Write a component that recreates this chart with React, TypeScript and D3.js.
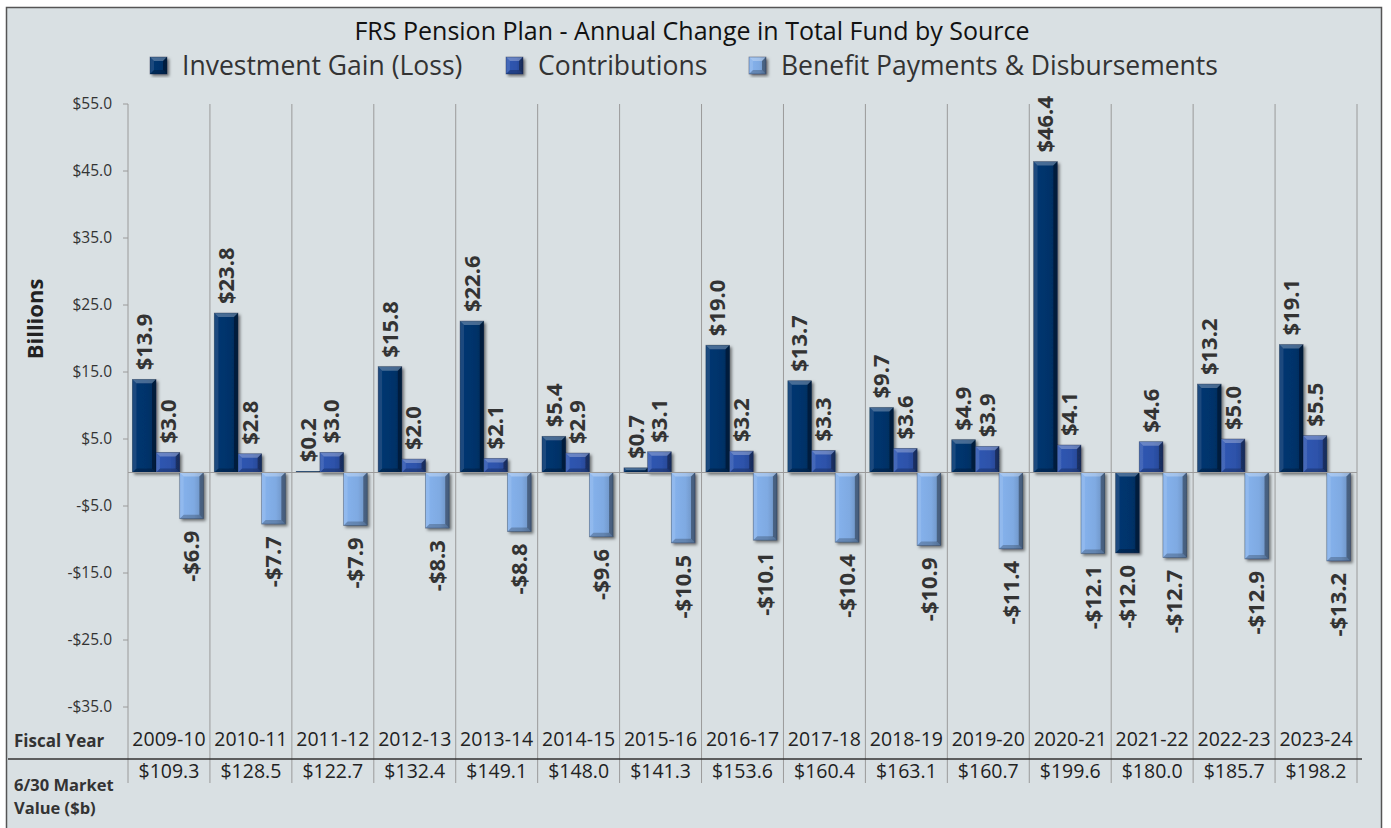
import React from "react";
import * as d3 from "d3";

const years = ["2009-10","2010-11","2011-12","2012-13","2013-14","2014-15","2015-16","2016-17","2017-18","2018-19","2019-20","2020-21","2021-22","2022-23","2023-24"];
const investment = [13.9, 23.8, 0.2, 15.8, 22.6, 5.4, 0.7, 19.0, 13.7, 9.7, 4.9, 46.4, -12.0, 13.2, 19.1];
const contributions = [3.0, 2.8, 3.0, 2.0, 2.1, 2.9, 3.1, 3.2, 3.3, 3.6, 3.9, 4.1, 4.6, 5.0, 5.5];
const benefits = [-6.9, -7.7, -7.9, -8.3, -8.8, -9.6, -10.5, -10.1, -10.4, -10.9, -11.4, -12.1, -12.7, -12.9, -13.2];
const marketValues = [109.3, 128.5, 122.7, 132.4, 149.1, 148.0, 141.3, 153.6, 160.4, 163.1, 160.7, 199.6, 180.0, 185.7, 198.2];
const yTicks = [55, 45, 35, 25, 15, 5, -5, -15, -25, -35];
const seriesNames = ["Investment Gain (Loss)", "Contributions", "Benefit Payments & Disbursements"];
const seriesColors = ["#01336b", "#2d52aa", "#7faae2"];

const W = 1391, H = 828;
const FONT = "'Open Sans', 'Noto Sans', sans-serif";

function fmt(v: number) {
  return (v < 0 ? "-$" : "$") + Math.abs(v).toFixed(1);
}

function Bar({ x, y, w, h, id }: { x: number; y: number; w: number; h: number; id: string }) {
  const b = Math.max(0, Math.min(4, h / 2, w / 2));
  const pts = (arr: number[][]) => arr.map((p) => p.join(",")).join(" ");
  return (
    <g filter="url(#shadow)">
      <rect x={x} y={y} width={w} height={h} fill={`url(#grad${id})`} />
      {h > 0.5 && (
        <>
          <polygon points={pts([[x, y], [x + w, y], [x + w - b, y + b], [x + b, y + b]])} fill="#fff" opacity={0.28} />
          <polygon points={pts([[x, y + h], [x + w, y + h], [x + w - b, y + h - b], [x + b, y + h - b]])} fill="#000" opacity={0.22} />
          <polygon points={pts([[x, y], [x + b, y + b], [x + b, y + h - b], [x, y + h]])} fill="#fff" opacity={0.1} />
          <polygon points={pts([[x + w, y], [x + w - b, y + b], [x + w - b, y + h - b], [x + w, y + h]])} fill="#000" opacity={0.35} />
        </>
      )}
      <rect x={x} y={y} width={w} height={h} fill="none" stroke="#0a1a33" strokeOpacity={0.45} strokeWidth={0.7} />
    </g>
  );
}

export default function App() {
  const plotLeft = 128, plotRight = 1357;
  const plotTop = 104, plotBottom = 707;
  const tableBottom = 783;
  const x = d3.scaleBand<string>().domain(years).range([plotLeft, plotRight]).paddingInner(0).paddingOuter(0);
  const y = d3.scaleLinear().domain([-35, 55]).range([plotBottom, plotTop]);
  const inner = d3.scaleBand<number>().domain([0, 1, 2]).range([0, x.bandwidth()]).paddingInner(0).paddingOuter(0.23).align(0.4);
  const series = [investment, contributions, benefits];
  const bounds = [plotLeft, ...years.map((yr) => (x(yr) as number) + x.bandwidth())];
  const y0 = y(0);

  const legendX = [150, 506, 749];

  return (
    <svg width={W} height={H} style={{ position: "absolute", left: 0, top: 0 }} fontFamily={FONT}>
      <defs>
        <filter id="shadow" x="-30%" y="-10%" width="160%" height="130%">
          <feDropShadow dx="2" dy="2" stdDeviation="1.5" floodColor="#000" floodOpacity="0.5" />
        </filter>
        {seriesColors.map((c, i) => {
          const dark = d3.color(c)!.darker(0.5).formatHex();
          const light = d3.color(c)!.brighter(0.15).formatHex();
          return (
            <linearGradient key={i} id={`grad${i}`} x1="0" x2="1" y1="0" y2="0">
              <stop offset="0" stopColor={light} />
              <stop offset="0.6" stopColor={c} />
              <stop offset="1" stopColor={dark} />
            </linearGradient>
          );
        })}
      </defs>
      <rect x={0} y={0} width={W} height={H} fill="#fff" />
      <rect x={6.5} y={7.5} width={1375} height={840} fill="#d9e0e3" stroke="#555" strokeWidth={1.5} />

      <text x={692} y={40} textAnchor="middle" fontSize={25} fill="#111">
        FRS Pension Plan - Annual Change in Total Fund by Source
      </text>
      {seriesNames.map((n, i) => (
        <g key={n}>
          <Bar x={legendX[i]} y={57} w={17} h={17} id={String(i)} />
          <text x={legendX[i] + 32} y={75} fontSize={26.5} fill="#333">{n}</text>
        </g>
      ))}

      {/* vertical grid lines */}
      {bounds.map((bx, i) => (
        <line key={i} x1={bx} x2={bx} y1={plotTop} y2={tableBottom} stroke="#9a9a9a" strokeWidth={1} />
      ))}
      {/* y ticks */}
      {yTicks.map((t) => (
        <g key={t}>
          <line x1={plotLeft - 5} x2={plotLeft} y1={y(t)} y2={y(t)} stroke="#9a9a9a" />
          <text x={112} y={y(t)} dy="0.35em" textAnchor="end" fontSize={15.5} fill="#333">{fmt(t)}</text>
        </g>
      ))}
      <text transform={`translate(43,${319}) rotate(-90)`} textAnchor="middle" fontSize={22} fontWeight="bold" fill="#222">Billions</text>

      {/* bars */}
      {series.map((vals, si) =>
        vals.map((v, ci) => {
          const bx = (x(years[ci]) as number) + (inner(si) as number);
          const bw = inner.bandwidth();
          const top = Math.min(y(v), y0);
          const h = Math.abs(y(v) - y0);
          return <Bar key={`${si}-${ci}`} x={bx} y={top} w={bw} h={h} id={String(si)} />;
        })
      )}
      <line x1={plotLeft} x2={plotRight} y1={y0} y2={y0} stroke="#9a9a9a" strokeWidth={1} />

      {/* labels */}
      {series.map((vals, si) =>
        vals.map((v, ci) => {
          const cx = (x(years[ci]) as number) + (inner(si) as number) + inner.bandwidth() / 2;
          const pos = v >= 0;
          const ly = pos ? y(v) - 9 : y(v) + 12;
          return (
            <text key={`l${si}-${ci}`} transform={`translate(${cx},${ly}) rotate(-90)`} textAnchor={pos ? "start" : "end"} dy="0.35em" fontSize={22} fontWeight="bold" fill="#333">
              {fmt(v)}
            </text>
          );
        })
      )}

      {/* table */}
      <line x1={8} x2={1362} y1={759} y2={759} stroke="#333" strokeWidth={1.5} />
      <text x={14} y={747} fontSize={17} fontWeight="bold" fill="#333">Fiscal Year</text>
      <text x={14} y={791} fontSize={16.5} fontWeight="bold" fill="#333">6/30 Market</text>
      <text x={14} y={814} fontSize={16.5} fontWeight="bold" fill="#333">Value ($b)</text>
      {years.map((yr, i) => (
        <g key={yr}>
          <text x={(x(yr) as number) + x.bandwidth() / 2} y={746} textAnchor="middle" fontSize={19.5} fill="#222">{yr}</text>
          <text x={(x(yr) as number) + x.bandwidth() / 2} y={778} textAnchor="middle" fontSize={19.5} fill="#222">{"$" + marketValues[i].toFixed(1)}</text>
        </g>
      ))}
    </svg>
  );
}
